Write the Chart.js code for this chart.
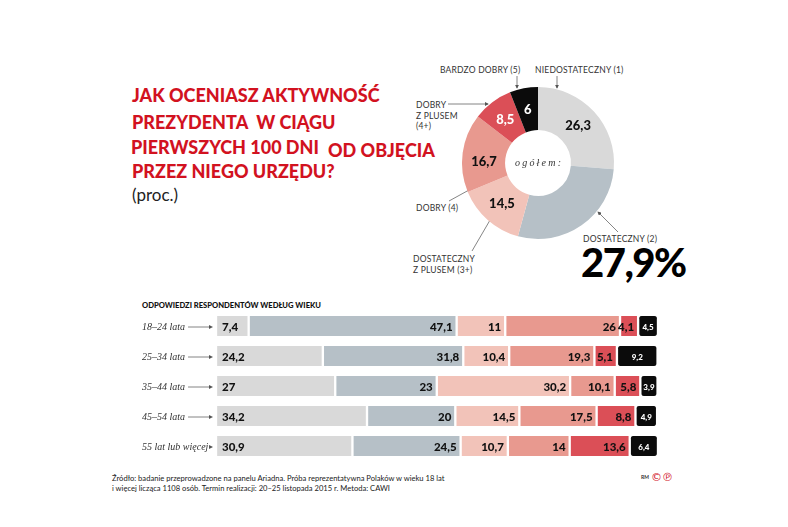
<!DOCTYPE html>
<html>
<head>
<meta charset="utf-8">
<script src="https://cdn.jsdelivr.net/npm/chart.js@4.4.1/dist/chart.umd.min.js"></script>
<style>
  body { margin: 0; background: #fff; width: 788px; height: 527px; position: relative; overflow: hidden; font-family: "Open Sans", sans-serif; }
  .t { position: absolute; white-space: nowrap; line-height: 1; }
  .title { color: #d2121f; font-family: Lato, sans-serif; font-weight: 900; font-size: 18px; }
  .lab { font-family: Lato, sans-serif; font-size: 8.5px; color: #333; letter-spacing: 0.2px; }
  #donut { position: absolute; left: 448px; top: 73px; }
  #bars { position: absolute; left: 0; top: 311px; }
  svg { position: absolute; left: 0; top: 0; }
</style>
</head>
<body>

<div class="t title" style="left:132px;top:86px">JAK OCENIASZ AKTYWNOŚĆ</div>
<div class="t title" style="left:132px;top:113px">PREZYDENTA&nbsp; W CIĄGU</div>
<div class="t title" style="left:131px;top:138px">PIERWSZYCH 100 DNI</div>
<div class="t title" style="left:328px;top:141px">OD OBJĘCIA</div>
<div class="t title" style="left:132px;top:162px">PRZEZ NIEGO URZĘDU?</div>
<div class="t" style="left:132px;top:186px;font-family:Lato,sans-serif;font-size:17px;color:#222">(proc.)</div>

<div class="t lab" style="left:440px;top:66px">BARDZO DOBRY (5)</div>
<div class="t lab" style="left:535px;top:66px">NIEDOSTATECZNY (1)</div>
<div class="t lab" style="left:416px;top:100px;line-height:10.5px">DOBRY<br>Z PLUSEM<br>(4+)</div>
<div class="t lab" style="left:416px;top:204px">DOBRY (4)</div>
<div class="t lab" style="left:413px;top:254px;line-height:10.5px">DOSTATECZNY<br>Z PLUSEM (3+)</div>
<div class="t lab" style="left:583px;top:235px">DOSTATECZNY (2)</div>
<div class="t" style="left:581px;top:242px;font-family:Lato,sans-serif;font-weight:900;font-size:40px;letter-spacing:-1.5px;color:#000">27,9%</div>

<div class="t" style="left:142px;top:302px;font-family:Lato,sans-serif;font-weight:900;font-size:7.6px;color:#111">ODPOWIEDZI RESPONDENTÓW WEDŁUG WIEKU</div>

<div class="t" style="left:112px;top:473px;font-family:Lato,sans-serif;font-size:7.6px;color:#222;line-height:10px">Źródło: badanie przeprowadzone na panelu Ariadna. Próba reprezentatywna Polaków w wieku 18 lat<br>i więcej licząca 1108 osób. Termin realizacji: 20–25 listopada 2015 r. Metoda: CAWI</div>
<div class="t" style="left:641px;top:475px;font-family:Lato,sans-serif;font-weight:700;font-size:5px;color:#333">RM</div>
<div class="t" style="left:651px;top:472px;font-family:'DejaVu Sans',sans-serif;font-size:11px;color:#d2121f">©℗</div>

<svg width="788" height="527">
  <defs>
    <marker id="ah" markerWidth="5" markerHeight="5" refX="4" refY="2.5" orient="auto">
      <path d="M0,0 L5,2.5 L0,5 z" fill="#555"/>
    </marker>
  </defs>
  <g stroke="#666" stroke-width="0.8" fill="none">
    <line x1="517" y1="76" x2="517" y2="88" marker-end="url(#ah)"/>
    <line x1="557" y1="76" x2="557" y2="88" marker-end="url(#ah)"/>
    <line x1="448" y1="104" x2="488" y2="104" marker-end="url(#ah)"/>
    <line x1="449" y1="201" x2="469" y2="190"/>
    <line x1="472" y1="251" x2="493" y2="215"/>
    <line x1="618" y1="232" x2="598" y2="212" marker-end="url(#ah)"/>
  </g>
</svg>

<canvas id="donut" width="180" height="180"></canvas>
<canvas id="bars" width="788" height="150"></canvas>

<script>
// kategorie ocen
const grades = ['niedostateczny (1)', 'dostateczny (2)', 'dostateczny z plusem (3+)', 'dobry (4)', 'dobry z plusem (4+)', 'bardzo dobry (5)'];
const gradeColors = ['#d9d9d9', '#b6c0c7', '#f2c3b9', '#e8998f', '#db4f57', '#0b0b0b'];

// ogółem
const overall = [26.3, 27.9, 14.5, 16.7, 8.5, 6];

// według wieku
const ageGroups = ['18–24 lata', '25–34 lata', '35–44 lata', '45–54 lata', '55 lat lub więcej'];
const nied      = [7.4, 24.2, 27, 34.2, 30.9];
const dost      = [47.1, 31.8, 23, 20, 24.5];
const dostPlus  = [11, 10.4, 30.2, 14.5, 10.7];
const dobry     = [26, 19.3, 10.1, 17.5, 14];
const dobryPlus = [4.1, 5.1, 5.8, 8.8, 13.6];
const bdb       = [4.5, 9.2, 3.9, 4.9, 6.4];

const fmt = v => String(v).replace('.', ',');

const donutLabels = {
    id: 'donutLabels',
    afterDraw(chart) {
        const ctx = chart.ctx;
        const meta = chart.getDatasetMeta(0);
        ctx.save();
        ctx.textAlign = 'center';
        ctx.textBaseline = 'middle';
        meta.data.forEach((arc, i) => {
            if (i === 1) return; // 27,9% podpisane obok
            const p = arc.getCenterPoint();
            ctx.font = '900 13px Lato';
            ctx.fillStyle = i >= 4 ? '#fff' : '#111';
            ctx.fillText(fmt(overall[i]), p.x, p.y + (i === 3 ? 6 : 0));
        });
        // środek
        const a = meta.data[0];
        ctx.font = 'italic 10px "Liberation Serif"';
        ctx.fillStyle = '#333';
        const txt = 'ogółem:';
        const sp = 2.2;
        let w = 0;
        for (const c of txt) w += ctx.measureText(c).width + sp;
        w -= sp;
        let x = a.x - w / 2;
        ctx.textAlign = 'left';
        for (const c of txt) { ctx.fillText(c, x, a.y); x += ctx.measureText(c).width + sp; }
        ctx.restore();
    }
};

new Chart(document.getElementById('donut'), {
    type: 'doughnut',
    data: {
        labels: grades,
        datasets: [{ data: overall, backgroundColor: gradeColors, borderWidth: 0 }]
    },
    options: {
        responsive: false,
        animation: false,
        radius: 76,
        cutout: 39,
        plugins: { legend: { display: false }, tooltip: { enabled: false } }
    },
    plugins: [donutLabels]
});

const series = [nied, dost, dostPlus, dobry, dobryPlus, bdb];
const align = ['left', 'right', 'right', 'right', 'right', 'center'];
const rowMax = Math.max(...ageGroups.map((_, i) => series.reduce((s, d) => s + d[i], 0)));

const barLabels = {
    id: 'barLabels',
    afterDraw(chart) {
        const ctx = chart.ctx;
        ctx.save();
        ctx.textBaseline = 'middle';
        chart.data.datasets.forEach((ds, di) => {
            chart.getDatasetMeta(di).data.forEach((bar, i) => {
                const { x, base, y } = bar.getProps(['x', 'base', 'y'], true);
                const v = ds.data[i];
                if (di === 5) {
                    ctx.font = '900 8px Lato';
                    ctx.fillStyle = '#fff';
                    ctx.textAlign = 'center';
                    ctx.fillText(fmt(v), (x + base) / 2, y + 1);
                } else {
                    ctx.font = '900 11.5px Lato';
                    ctx.fillStyle = '#111';
                    ctx.textAlign = align[di];
                    ctx.fillText(fmt(v), align[di] === 'left' ? base + 6 : x - 4, y + 1);
                }
            });
        });
        // etykiety wierszy ze strzałkami
        const yScale = chart.scales.y;
        ctx.font = 'italic 10px "Liberation Serif"';
        ctx.textAlign = 'left';
        ctx.strokeStyle = '#666';
        ctx.lineWidth = 0.8;
        ageGroups.forEach((g, i) => {
            const y = yScale.getPixelForValue(i);
            ctx.fillStyle = '#333';
            ctx.fillText(g, 142, y + 1);
            const x0 = 142 + ctx.measureText(g).width + 3;
            const x1 = chart.chartArea.left - 3;
            ctx.beginPath();
            ctx.moveTo(x0, y + 1);
            ctx.lineTo(x1 - 3, y + 1);
            ctx.stroke();
            ctx.beginPath();
            ctx.moveTo(x1, y + 1);
            ctx.lineTo(x1 - 4, y - 1);
            ctx.lineTo(x1 - 4, y + 3);
            ctx.closePath();
            ctx.fillStyle = '#555';
            ctx.fill();
        });
        ctx.restore();
    }
};

new Chart(document.getElementById('bars'), {
    type: 'bar',
    data: {
        labels: ageGroups,
        datasets: series.map((d, i) => ({
            label: grades[i],
            data: d,
            backgroundColor: gradeColors[i],
            borderColor: '#fff',
            borderWidth: { left: 1.5, right: 1.5, top: 0, bottom: 0 },
            borderSkipped: false,
            borderRadius: 4,
            barThickness: 20
        }))
    },
    options: {
        indexAxis: 'y',
        responsive: false,
        animation: false,
        layout: { padding: { left: 216, right: 130, top: 0, bottom: 0 } },
        scales: {
            x: { stacked: true, display: false, min: 0, max: rowMax },
            y: { stacked: true, display: false }
        },
        plugins: { legend: { display: false }, tooltip: { enabled: false } }
    },
    plugins: [barLabels]
});
</script>
</body>
</html>
